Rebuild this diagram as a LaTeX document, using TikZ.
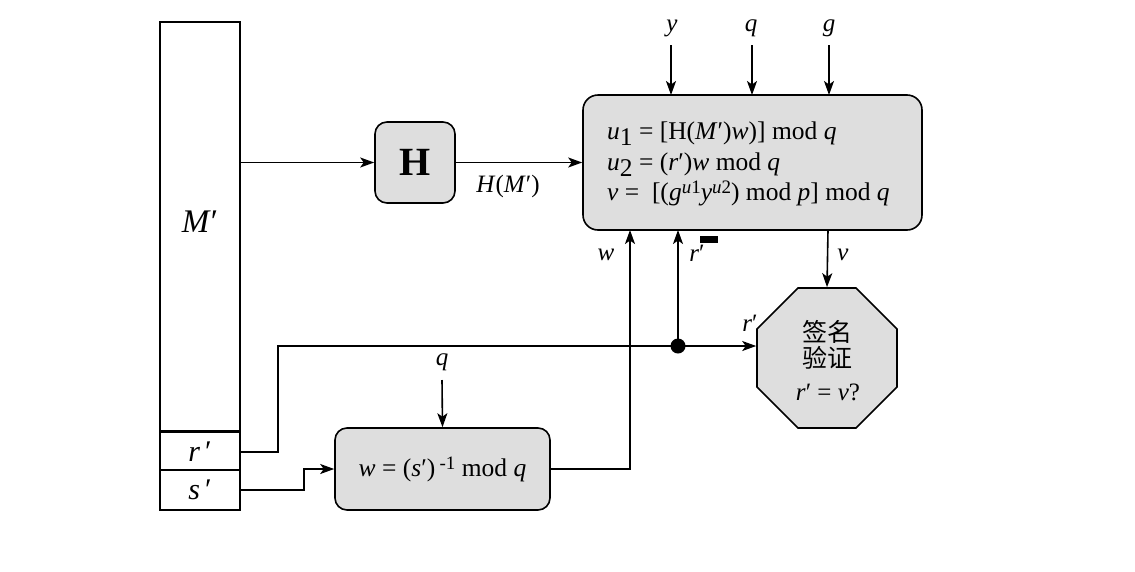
\documentclass[tikz,border=0pt]{standalone}
\usepackage{fontspec}
\setmainfont{Liberation Serif}
\newfontfamily\cjk{Noto Sans CJK SC}
\usetikzlibrary{arrows.meta,shapes.geometric}
\newcommand{\pr}{′}
\tikzset{
  ln/.style={line width=1.6pt},
  arr/.style={ln,-{Stealth[length=14pt,width=10pt,inset=3.5pt]}},
  cell/.style={draw,ln,fill=white,inner sep=0pt,minimum width=80pt},
  gbox/.style={draw,ln,fill=black!13,rounded corners=12pt,inner sep=0pt},
  lab/.style={inner sep=1pt,font=\fontsize{25}{28}\selectfont},
}
\begin{document}
\begin{tikzpicture}[x=1pt,y=-1pt]
\useasboundingbox (0,0) rectangle (1135,571);
% message block
\node[cell,minimum height=409pt] (msg) at (200,226.5) {};
\node[cell,minimum height=39pt,font=\fontsize{30}{32}\selectfont] (rc) at (200,452) {\textit{r}\,\pr};
\node[cell,minimum height=40pt,font=\fontsize{30}{32}\selectfont] (sc) at (200,490) {\textit{s}\,\pr};
\node[inner sep=0pt,font=\fontsize{33}{35}\selectfont] (mlab) at (200,222) {\textit{M}\pr};
% hash box
\node[gbox,minimum width=80pt,minimum height=81pt,font=\fontsize{40}{42}\selectfont\bfseries] (H) at (415,162.5) {H};
% main box
\node[gbox,minimum width=339pt,minimum height=135pt,rounded corners=15pt] (main) at (752.5,162.5) {};
\node[anchor=west,align=left,inner sep=0pt,font=\fontsize{25.5}{30.5}\selectfont] (mtext) at (607,164) {%
\textit{u}\raisebox{-6pt}{1} = [H(\textit{M}\pr)\textit{w})] mod \textit{q}\\
\textit{u}\raisebox{-6pt}{2} = (\textit{r}\pr)\textit{w} mod \textit{q}\\
\textit{v} =\ \ [(\textit{g}\raisebox{7pt}{\fontsize{19}{19}\selectfont\textit{u}1}\textit{y}\raisebox{7pt}{\fontsize{19}{19}\selectfont\textit{u}2}) mod \textit{p}] mod \textit{q}};
% w box
\node[gbox,minimum width=215pt,minimum height=82pt,font=\fontsize{25.5}{28}\selectfont] (wbox) at (442.5,469) {\textit{w} = (\textit{s}\pr)\,\raisebox{7pt}{\fontsize{19}{19}\selectfont -1} mod \textit{q}};
% octagon
\node[draw,ln,fill=black!13,regular polygon,regular polygon sides=8,minimum size=151.5pt,inner sep=0pt] (oct) at (827,358) {};
\node[inner sep=0pt,font=\fontsize{25}{27}\selectfont\cjk] (o1) at (827,332) {签名};
\node[inner sep=0pt,font=\fontsize{25}{27}\selectfont\cjk] (o2) at (827,358) {验证};
\node[inner sep=0pt,font=\fontsize{25}{27}\selectfont] (o3) at (828,392) {\textit{r}\pr\ = \textit{v}?};
% top inputs
\node[lab] (ylab) at (672,28) {\textit{y}};
\node[lab] (qlab) at (751,28) {\textit{q}};
\node[lab] (glab) at (829,28) {\textit{g}};
\draw[arr] (671,45) -- (671,95);
\draw[arr] (752,45) -- (752,95);
\draw[arr] (829,45) -- (829,95);
% M' -> H -> main
\draw[arr] (msg.east |- H.west) -- (H.west);
\draw[arr] (H.east) -- (main.west |- H.east);
\node[lab] (hm) at (508,186) {\textit{H}(\textit{M}\pr)};
% q -> w box
\node[lab] (q2lab) at (442,362) {\textit{q}};
\draw[arr] (442,380) -- (wbox.north);
% s' -> w box
\draw[arr] (sc.east) -- ++(63,0) |- (wbox.west);
% w box -> main
\coordinate (win) at (630,230);
\draw[arr] (wbox.east) -| (win);
\node[lab] (wl) at (606,255) {\textit{w}};
% r' line
\coordinate (jn) at (678,346);
\draw[arr] (rc.east) -- ++(37,0) |- (jn) -- (jn -| oct.west);
\fill (jn) circle (7.5pt);
\coordinate (rin) at (678,230);
\draw[arr] (jn) -- (rin);
\node[lab] (rl) at (697,253) {\textit{r}\pr};
\fill (700,236) rectangle (718,243);
\node[lab] (rl2) at (750,323) {\textit{r}\pr};
% v
\coordinate (vout) at (828,230);
\draw[arr] (vout) -- (oct.north);
\node[lab] (vl) at (843,255) {\textit{v}};
\end{tikzpicture}
\end{document}
